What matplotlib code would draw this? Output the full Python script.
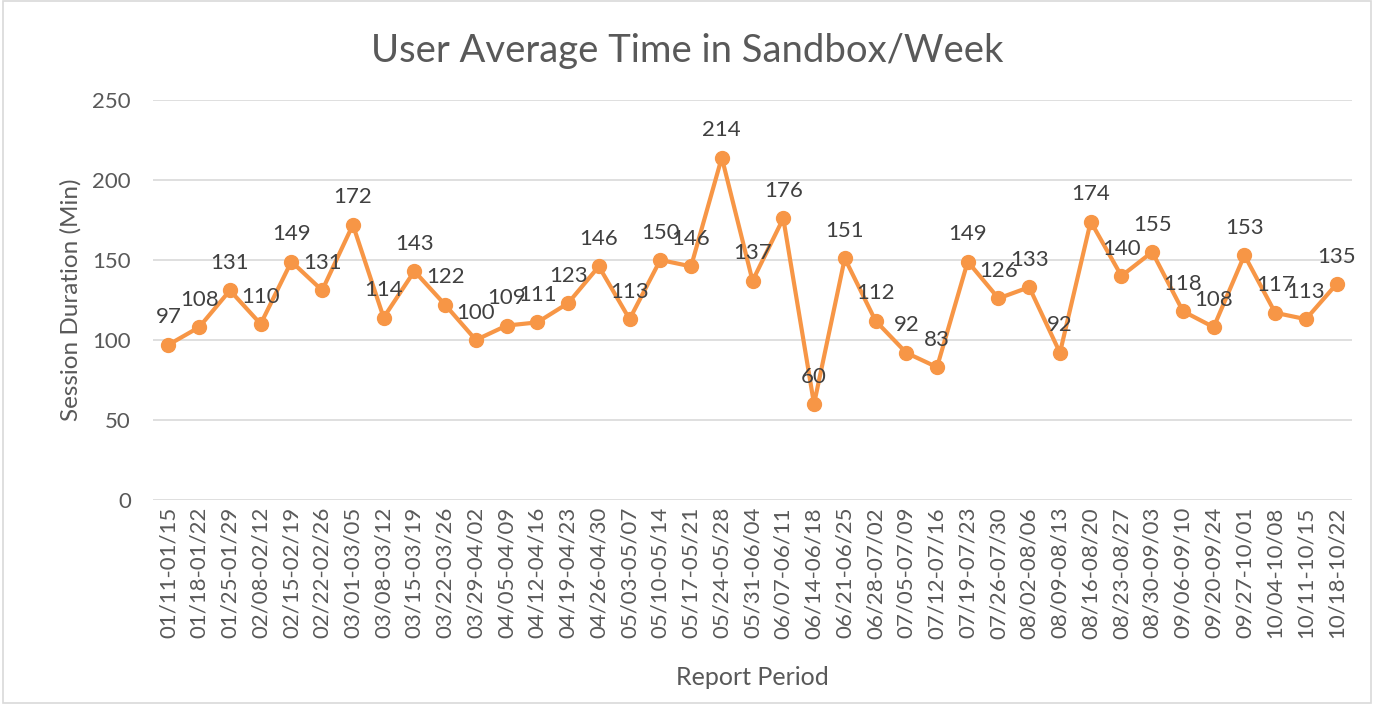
import matplotlib.pyplot as plt
from matplotlib.patches import Rectangle

periods = [
    '01/11-01/15', '01/18-01/22', '01/25-01/29', '02/08-02/12', '02/15-02/19',
    '02/22-02/26', '03/01-03/05', '03/08-03/12', '03/15-03/19', '03/22-03/26',
    '03/29-04/02', '04/05-04/09', '04/12-04/16', '04/19-04/23', '04/26-04/30',
    '05/03-05/07', '05/10-05/14', '05/17-05/21', '05/24-05/28', '05/31-06/04',
    '06/07-06/11', '06/14-06/18', '06/21-06/25', '06/28-07/02', '07/05-07/09',
    '07/12-07/16', '07/19-07/23', '07/26-07/30', '08/02-08/06', '08/09-08/13',
    '08/16-08/20', '08/23-08/27', '08/30-09/03', '09/06-09/10', '09/20-09/24',
    '09/27-10/01', '10/04-10/08', '10/11-10/15', '10/18-10/22',
]
minutes = [97, 108, 131, 110, 149, 131, 172, 114, 143, 122, 100, 109, 111, 123,
           146, 113, 150, 146, 214, 137, 176, 60, 151, 112, 92, 83, 149, 126,
           133, 92, 174, 140, 155, 118, 108, 153, 117, 113, 135]

plt.rcParams['font.family'] = ['Lato', 'DejaVu Sans']
grey = '#595959'
orange = '#F79646'

fig = plt.figure(figsize=(13.74, 7.04), dpi=100)
ax = fig.add_axes([0.1114, 0.2898, 0.8726, 0.5682])
fig.patches.append(Rectangle((0.002, 0.002), 0.996, 0.996, transform=fig.transFigure,
                             fill=False, edgecolor='#D9D9D9', linewidth=1.2))

x = range(len(periods))
ax.plot(x, minutes, color=orange, linewidth=3, marker='o', markersize=10, zorder=3)
for i, v in zip(x, minutes):
    ax.annotate(str(v), (i, v), xytext=(0, 12.5), textcoords='offset points',
                ha='center', va='bottom', fontsize=16, color='#404040')

ax.set_xlim(-0.5, len(periods) - 0.5)
ax.set_ylim(0, 250)
ax.set_yticks(range(0, 251, 50))
ax.set_xticks(list(x))
ax.set_xticklabels(periods, rotation=90, fontsize=16, color=grey)
ax.tick_params(axis='y', labelsize=16, labelcolor=grey, length=0, pad=16)
ax.tick_params(axis='x', length=0, pad=5)
ax.grid(axis='y', color='#D9D9D9', linewidth=1.2)
ax.set_axisbelow(True)
for s in ax.spines.values():
    s.set_visible(False)

ax.set_ylabel('Session Duration (Min)', fontsize=17.5, color=grey, labelpad=8)
ax.set_xlabel('Report Period', fontsize=18, color=grey, labelpad=20)
fig.text(0.5, 0.928, 'User Average Time in Sandbox/Week', fontsize=27.5, color=grey,
         ha='center', va='center')

fig.savefig('out.png', dpi=100)
